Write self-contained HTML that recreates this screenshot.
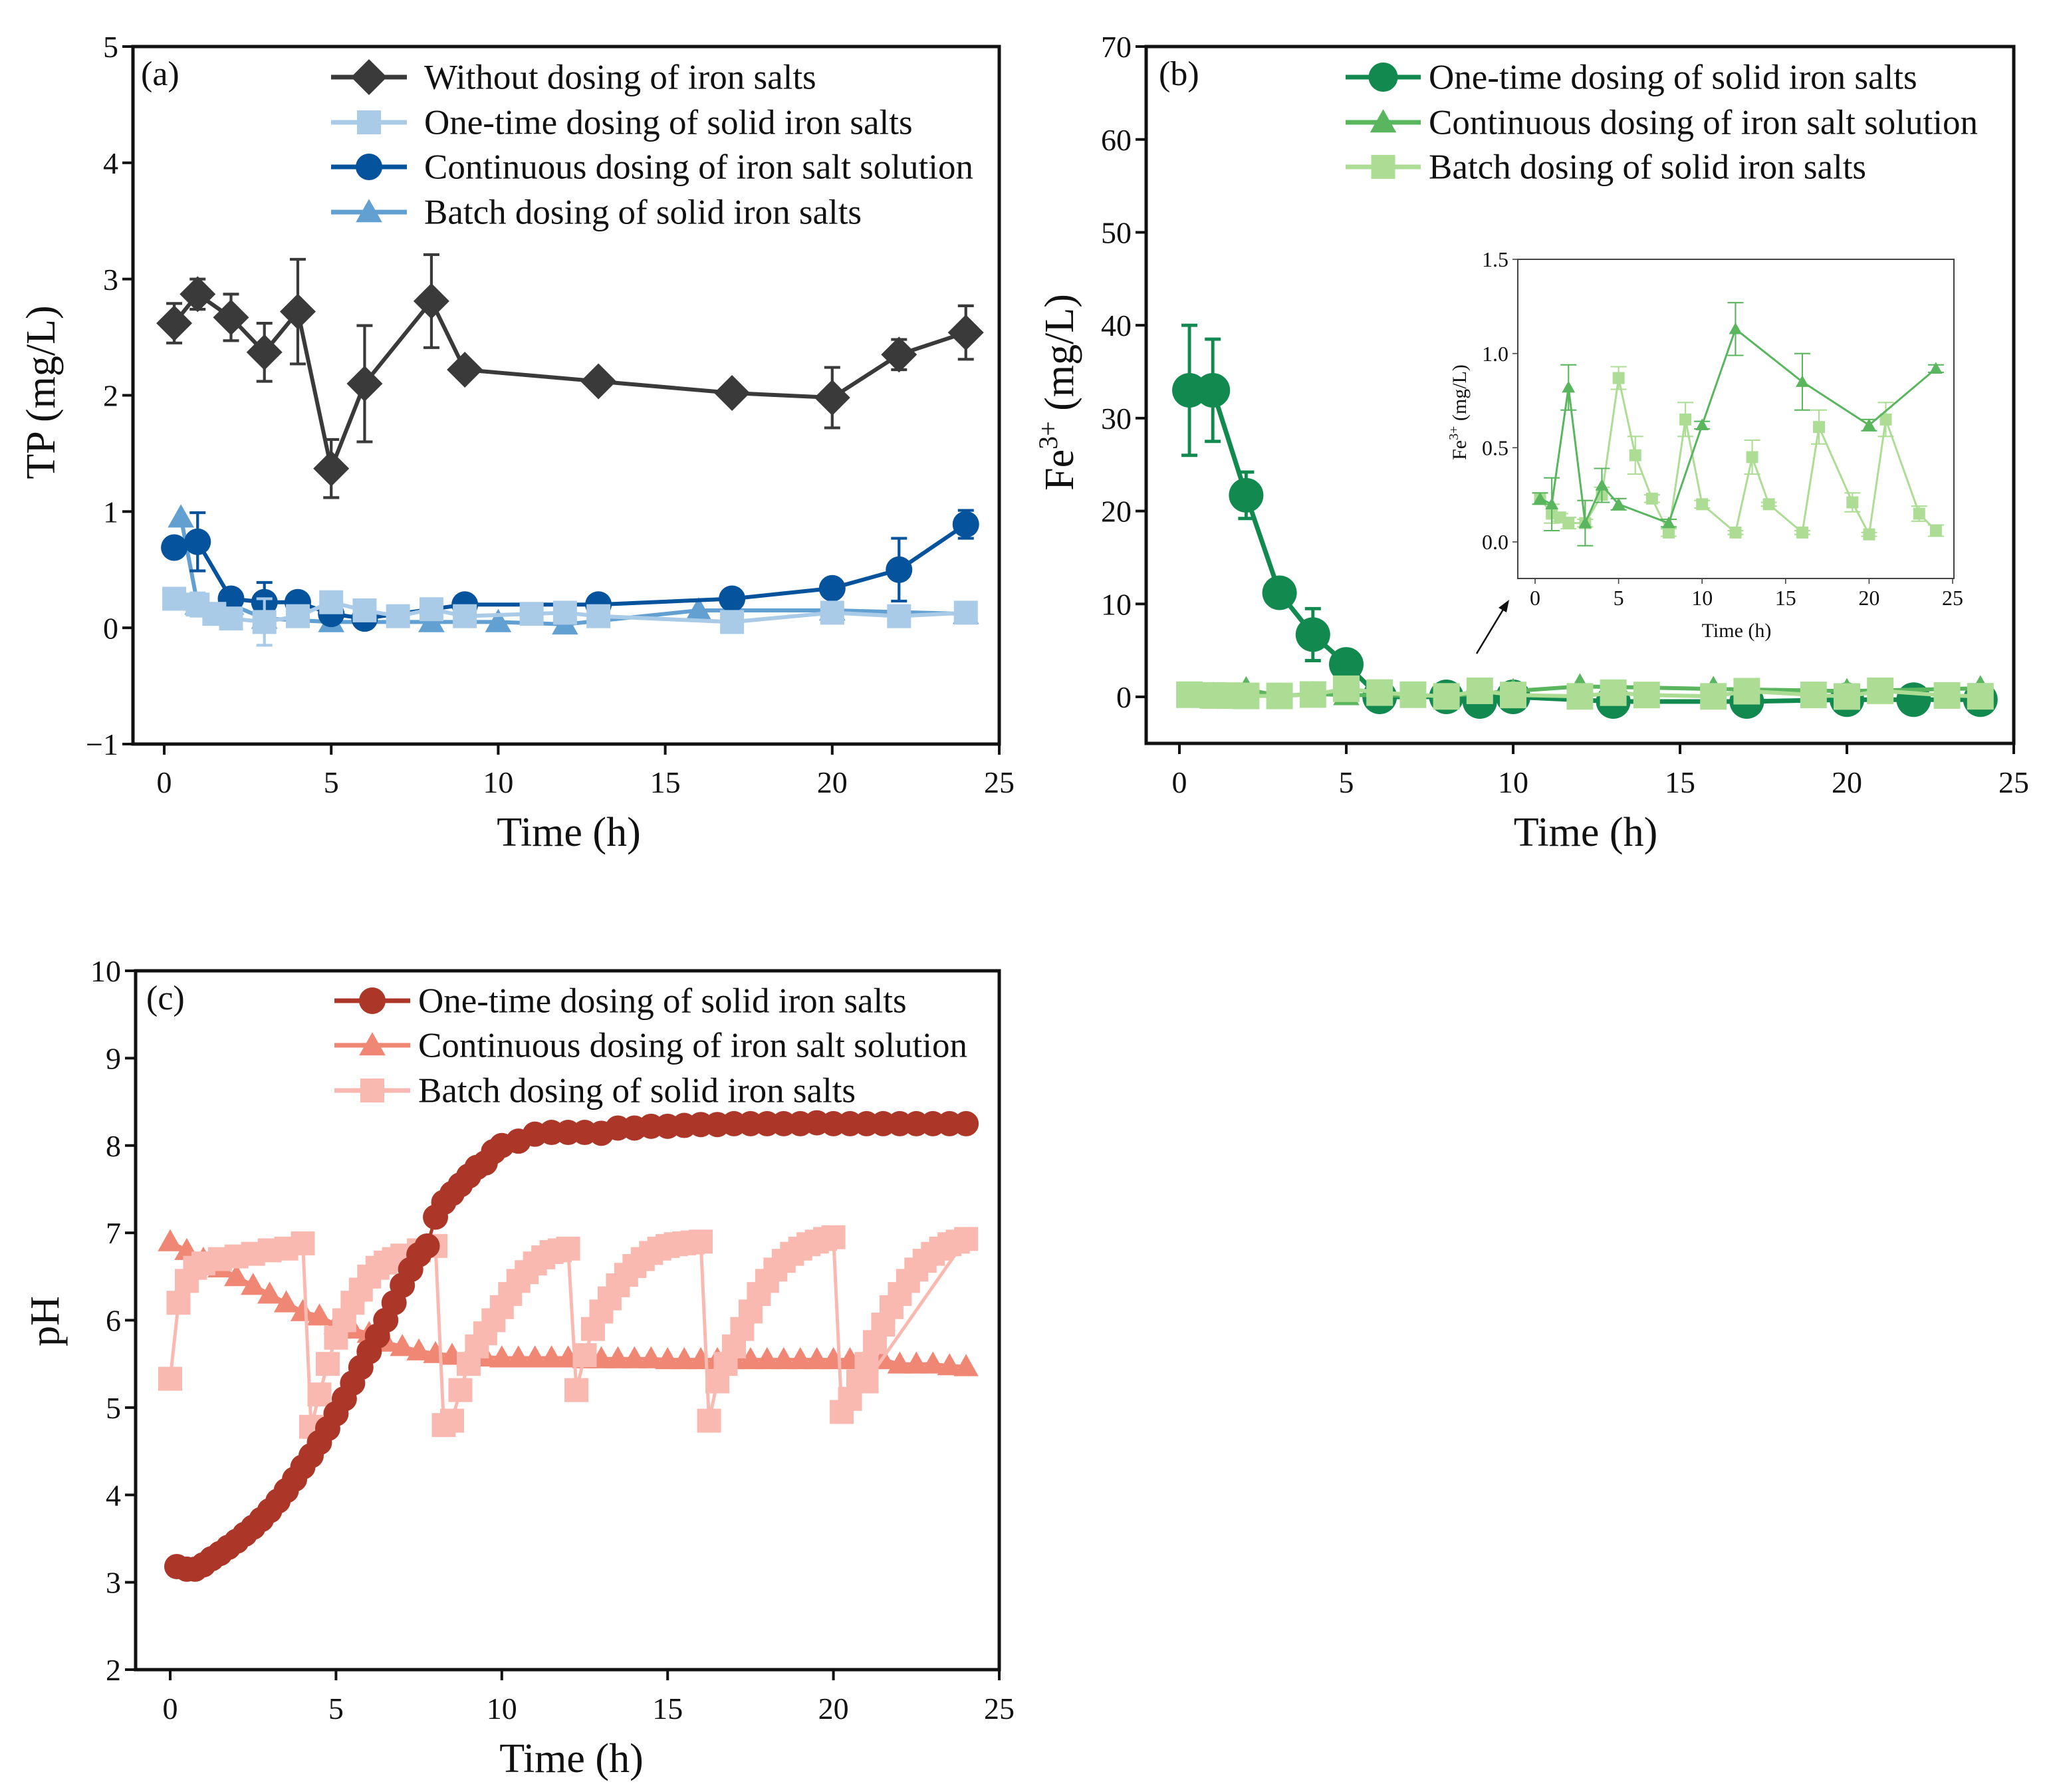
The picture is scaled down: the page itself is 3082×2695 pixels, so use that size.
<!DOCTYPE html>
<html><head><meta charset="utf-8"><style>
html,body{margin:0;padding:0;background:#fff}
svg{display:block}
text{font-family:"Liberation Serif",serif}
</style></head><body>
<svg id="fig" width="3082" height="2695" viewBox="0 0 3082 2695" xmlns="http://www.w3.org/2000/svg"></svg>
<script>
// ---- Panel (a) TP data ----
const aWithoutT=[0.3,1,2,3,4,5,6,8,9,13,17,20,22,24];
const aWithoutV=[2.62,2.87,2.67,2.37,2.72,1.37,2.1,2.81,2.22,2.12,2.02,1.98,2.35,2.54];
const aWithoutE=[0.17,0.13,0.2,0.25,0.45,0.25,0.5,0.4,0.05,0.05,0.05,0.26,0.13,0.23];
const aOneT=[0.3,1,1.5,2,3,4,5,6,7,8,9,11,12,13,17,20,22,24];
const aOneV=[0.25,0.2,0.12,0.08,0.05,0.1,0.22,0.15,0.1,0.16,0.1,0.12,0.13,0.1,0.05,0.13,0.1,0.13];
const aOneE=[0.05,0.1,0.03,0.03,0.2,0.05,0.05,0.05,0.05,0.05,0.05,0.03,0.03,0.03,0.03,0.05,0.03,0.05];
const aContT=[0.3,1,2,3,4,5,6,9,13,17,20,22,24];
const aContV=[0.69,0.74,0.25,0.22,0.22,0.12,0.08,0.2,0.2,0.25,0.34,0.5,0.89];
const aContE=[0.05,0.25,0.05,0.17,0.05,0.05,0.05,0.03,0.03,0.03,0.05,0.27,0.12];
const aBatchT=[0.5,1,2,3,5,8,10,12,16,20,24];
const aBatchV=[0.95,0.2,0.2,0.08,0.05,0.05,0.05,0.03,0.15,0.15,0.12];
const aYTicks=[-1,0,1,2,3,4,5];
const xTicks=[0,5,10,15,20,25];
// ---- Panel (b) Fe3+ data ----
const bOneT=[0.3,1,2,3,4,5,6,8,9,10,13,17,20,22,24];
const bOneV=[33,33,21.7,11.2,6.7,3.5,0,0,-0.5,0,-0.5,-0.5,-0.3,-0.3,-0.3];
const bOneE=[7,5.5,2.5,1.5,2.8,0.5,0.3,0.3,0.3,0.3,0.3,0.3,0.3,0.3,0.3];
const bContT=[0.3,1,2,3,4,5,8,10,12,16,20,24];
const bContV=[0.23,0.2,0.82,0.1,0.3,0.2,0.1,0.62,1.13,0.85,0.62,0.92];
const bContE=[0.03,0.14,0.12,0.12,0.09,0.03,0.02,0.02,0.14,0.15,0.03,0.02];
const bBatchT=[0.3,1,1.5,2,3,4,5,6,7,8,9,10,12,13,14,16,17,19,20,21,23,24];
const bBatchV=[0.23,0.15,0.13,0.1,0.1,0.25,0.87,0.46,0.23,0.05,0.65,0.2,0.05,0.45,0.2,0.05,0.61,0.21,0.04,0.65,0.15,0.06];
const bBatchE=[0.03,0.05,0.02,0.03,0.02,0.04,0.06,0.1,0.02,0.02,0.09,0.02,0.01,0.09,0.01,0.01,0.09,0.05,0.01,0.09,0.04,0.03];
const bYTicks=[0,10,20,30,40,50,60,70];
const insetYTicks=[0.0,0.5,1.0,1.5];
// ---- Panel (c) pH data ----
const cOneT=[0.2,0.5,0.75,1,1.25,1.5,1.75,2,2.25,2.5,2.75,3,3.25,3.5,3.75,4,4.25,4.5,4.75,5,5.25,5.5,5.75,6,6.25,6.5,6.75,7,7.25,7.5,7.75,8,8.25,8.5,8.75,9,9.25,9.5,9.75,10,10.5,11,11.5,12,12.5,13,13.5,14,14.5,15,15.5,16,16.5,17,17.5,18,18.5,19,19.5,20,20.5,21,21.5,22,22.5,23,23.5,24];
const cOneV=[3.18,3.15,3.15,3.2,3.27,3.33,3.4,3.47,3.55,3.63,3.72,3.82,3.93,4.05,4.18,4.32,4.45,4.6,4.76,4.93,5.1,5.28,5.46,5.64,5.82,6.0,6.2,6.4,6.58,6.75,6.85,7.18,7.35,7.45,7.55,7.65,7.75,7.8,7.93,8.0,8.05,8.13,8.15,8.15,8.15,8.14,8.2,8.2,8.22,8.22,8.23,8.24,8.24,8.25,8.25,8.25,8.25,8.25,8.26,8.25,8.25,8.25,8.25,8.25,8.25,8.25,8.25,8.25];
const cContT=[0,0.5,1,1.5,2,2.5,3,3.5,4,4.5,5,5.5,6,6.5,7,7.5,8,8.5,9,9.5,10,10.5,11,11.5,12,12.5,13,13.5,14,14.5,15,15.5,16,16.5,17,17.5,18,18.5,19,19.5,20,20.5,21,21.5,22,22.5,23,23.5,24];
const cContV=[6.9,6.8,6.7,6.6,6.5,6.4,6.3,6.2,6.1,6.05,5.95,5.9,5.85,5.75,5.7,5.65,5.62,5.6,5.58,5.58,5.57,5.57,5.57,5.57,5.57,5.56,5.56,5.56,5.56,5.56,5.55,5.55,5.55,5.55,5.55,5.55,5.55,5.55,5.55,5.55,5.55,5.55,5.55,5.55,5.5,5.5,5.5,5.48,5.47];
const cBatchT=[0,0.25,0.5,0.75,1,1.5,2,2.5,3,3.5,4,4.25,4.5,4.75,5,5.25,5.5,5.75,6,6.25,6.5,6.75,7,7.5,8,8.25,8.5,8.75,9,9.25,9.5,9.75,10,10.25,10.5,10.75,11,11.25,11.5,11.75,12,12.25,12.5,12.75,13,13.25,13.5,13.75,14,14.25,14.5,14.75,15,15.25,15.5,15.75,16,16.25,16.5,16.75,17,17.25,17.5,17.75,18,18.25,18.5,18.75,19,19.25,19.5,19.75,20,20.25,20.5,20.75,21,21.25,21.5,21.75,22,22.25,22.5,22.75,23,23.25,23.5,23.75,24,21];
const cBatchV=[5.33,6.2,6.45,6.6,6.65,6.7,6.73,6.76,6.8,6.82,6.88,4.78,5.15,5.5,5.8,6.0,6.2,6.35,6.5,6.6,6.66,6.7,6.74,6.8,6.85,4.8,4.85,5.2,5.5,5.7,5.85,6.0,6.15,6.3,6.45,6.55,6.65,6.72,6.78,6.8,6.82,5.2,5.6,5.9,6.1,6.25,6.4,6.52,6.62,6.7,6.77,6.82,6.85,6.87,6.88,6.89,6.9,4.85,5.3,5.5,5.7,5.9,6.1,6.3,6.45,6.58,6.68,6.76,6.82,6.87,6.9,6.93,6.95,4.95,5.1,5.3,5.5,5.75,5.95,6.15,6.3,6.45,6.58,6.68,6.76,6.82,6.87,6.9,6.93,5.3];
const cYTicks=[2,3,4,5,6,7,8,9,10];

const NS="http://www.w3.org/2000/svg";
const svg=document.getElementById('fig');
function el(tag,attrs,parent,txt){const e=document.createElementNS(NS,tag);for(const k in attrs)e.setAttribute(k,attrs[k]);if(txt!==undefined)e.textContent=txt;(parent||svg).appendChild(e);return e;}
function grp(name,parent){const g=el('g',{},parent);return g;}
function lin(d0,d1,r0,r1){return v=>r0+(v-d0)/(d1-d0)*(r1-r0);}
function marker(g,shape,x,y,s,color){
  let m;
  if(shape==='circle')m=el('circle',{cx:x,cy:y,r:s,fill:color},g);
  else if(shape==='square')m=el('rect',{x:x-s,y:y-s,width:2*s,height:2*s,fill:color},g);
  else if(shape==='diamond')m=el('polygon',{points:`${x},${y-s} ${x+s},${y} ${x},${y+s} ${x-s},${y}`,fill:color},g);
  else m=el('polygon',{points:`${x},${y-s*1.1} ${x+s*1.1},${y+s*0.85} ${x-s*1.1},${y+s*0.85}`,fill:color},g);
  return m;
}
function series(g,X,Y,T,V,E,shape,size,color,lw,name){
  const sg=grp(name,g);
  let pts=T.map((t,i)=>X(t)+','+Y(V[i])).join(' ');
  const pl=el('polyline',{points:pts,fill:'none',stroke:color,'stroke-width':lw,'stroke-linejoin':'round'},sg);
  
  
  if(E){T.forEach((t,i)=>{const x=X(t),y1=Y(V[i]+E[i]),y2=Y(V[i]-E[i]);
    el('path',{d:`M${x},${y1}V${y2}M${x-12},${y1}H${x+12}M${x-12},${y2}H${x+12}`,stroke:color,'stroke-width':lw*0.7,fill:'none'},sg);});}
  T.forEach((t,i)=>{const m=marker(sg,shape,X(t),Y(V[i]),size,color);
    
    });
}
function axes(g,L,R,T,B,X,Y,yt,xt,fs,tick,lw,yfmt,xly,col){
  col=col||'#111';
  el('rect',{x:L,y:T,width:R-L,height:B-T,fill:'none',stroke:col,'stroke-width':lw},g);
  const yg=grp('y-axis-ticks',g);
  yt.forEach(v=>{const y=Y(v);el('line',{x1:L-tick,x2:L,y1:y,y2:y,stroke:col,'stroke-width':lw*0.8},yg);
    const t=el('text',{x:L-tick-6,y:y+fs*0.35,'font-size':fs,'text-anchor':'end',fill:'#111'},yg,yfmt?yfmt(v):(v<0?'\u2212'+(-v):String(v)));
    });
  const xg=grp('x-axis-ticks',g);
  xt.forEach(v=>{const x=X(v);el('line',{x1:x,x2:x,y1:B,y2:B+tick,stroke:col,'stroke-width':lw*0.8},xg);
    const t=el('text',{x:x,y:xly,'font-size':fs,'text-anchor':'middle',fill:'#111'},xg,String(v));
    });
}
function legend(g,x0,x1,tx,rows,fs){
  rows.forEach(r=>{const lg=grp('legend-entry',g);
    el('line',{x1:x0,x2:x1,y1:r.y,y2:r.y,stroke:r.c,'stroke-width':7},lg);
    marker(lg,r.s,(x0+x1)/2,r.y,r.sz,r.c);
    el('text',{x:tx,y:r.y+fs*0.33,'font-size':fs,fill:'#111'},lg,r.t);});
}
const FS=46, TF=62, LF=53;
// ===== Panel A =====
(function(){
  const g=grp('panel-a-tp');
  const L=200,R=1503,T=70,B=1119;
  const X=lin(0,25,247,1503), Y=lin(-1,5,1119,70);
  axes(g,L,R,T,B,X,Y,aYTicks,xTicks,FS,16,5,null,1192);
  series(g,X,Y,aBatchT,aBatchV,null,'triangle',18,'#62a0d2',6,'batch-dosing-series');
  series(g,X,Y,aContT,aContV,aContE,'circle',20,'#05539c',6,'continuous-dosing-series');
  series(g,X,Y,aOneT,aOneV,aOneE,'square',18,'#a9cbe7',6,'one-time-dosing-series');
  series(g,X,Y,aWithoutT,aWithoutV,aWithoutE,'diamond',27,'#3a3a3a',6,'without-dosing-series');
  el('text',{x:212,y:128,'font-size':52,fill:'#111'},g,'(a)');
  legend(g,498,612,638,[
    {y:116,c:'#3a3a3a',s:'diamond',sz:27,t:'Without dosing of iron salts'},
    {y:184,c:'#a9cbe7',s:'square',sz:18,t:'One-time dosing of solid iron salts'},
    {y:251,c:'#05539c',s:'circle',sz:20,t:'Continuous dosing of iron salt solution'},
    {y:319,c:'#62a0d2',s:'triangle',sz:18,t:'Batch dosing of solid iron salts'}],LF);
  el('text',{x:(L+R)/2+4,y:1272,'font-size':TF,'text-anchor':'middle',fill:'#111'},g,'Time (h)');
  el('text',{transform:'translate(82,590) rotate(-90)','font-size':TF,'text-anchor':'middle',fill:'#111'},g,'TP (mg/L)');
})();
// ===== Panel B =====
(function(){
  const g=grp('panel-b-fe');
  const L=1724,R=3029,T=70,B=1118;
  const X=lin(0,25,1774,3029), Y=lin(0,70,1048,70);
  axes(g,L,R,T,B,X,Y,bYTicks,xTicks,FS,16,5,null,1192);
  series(g,X,Y,bOneT,bOneV,bOneE,'circle',26,'#12894e',7,'one-time-dosing-series');
  series(g,X,Y,bContT,bContV,null,'triangle',18,'#5ab55f',6,'continuous-dosing-series');
  series(g,X,Y,bBatchT,bBatchV,null,'square',20,'#addd95',6,'batch-dosing-series');
  el('text',{x:1743,y:128,'font-size':52,fill:'#111'},g,'(b)');
  legend(g,2024,2137,2149,[
    {y:116,c:'#12894e',s:'circle',sz:22,t:'One-time dosing of solid iron salts'},
    {y:184,c:'#5ab55f',s:'triangle',sz:18,t:'Continuous dosing of iron salt solution'},
    {y:251,c:'#addd95',s:'square',sz:18,t:'Batch dosing of solid iron salts'}],LF);
  el('text',{x:2385,y:1272,'font-size':TF,'text-anchor':'middle',fill:'#111'},g,'Time (h)');
  const yt=el('text',{transform:'translate(1614,590) rotate(-90)','font-size':TF,'text-anchor':'middle',fill:'#111'},g);
  el('tspan',{},yt,'Fe');el('tspan',{dy:-24,'font-size':40},yt,'3+');el('tspan',{dy:24},yt,' (mg/L)');
  // inset
  const ig=grp('inset-chart',g);
  const iL=2283,iR=2939,iT=390,iB=870;
  const IX=lin(0,25,2309,2937), IY=lin(0,1.5,815,390);
  axes(ig,iL,iR,iT,iB,IX,IY,insetYTicks,xTicks,32,8,2,v=>v.toFixed(1),910,'#444');
  series(ig,IX,IY,bBatchT,bBatchV,bBatchE,'square',9,'#addd95',3,'inset-batch-series');
  series(ig,IX,IY,bContT,bContV,bContE,'triangle',9,'#5ab55f',3,'inset-continuous-series');
  el('text',{x:2612,y:958,'font-size':30,'text-anchor':'middle',fill:'#111'},ig,'Time (h)');
  const it=el('text',{transform:'translate(2205,620) rotate(-90)','font-size':30,'text-anchor':'middle',fill:'#111'},ig);
  el('tspan',{},it,'Fe');el('tspan',{dy:-12,'font-size':20},it,'3+');el('tspan',{dy:12},it,' (mg/L)');
  el('line',{x1:2221,y1:983,x2:2262,y2:915,stroke:'#111','stroke-width':2.5},g);
  el('polygon',{points:'2270,902 2254,914 2266,921',fill:'#111'},g);
})();
// ===== Panel C =====
(function(){
  const g=grp('panel-c-ph');
  const L=204,R=1503,T=1460,B=2511;
  const X=lin(0,25,256,1503), Y=lin(2,10,2511,1460);
  axes(g,L,R,T,B,X,Y,cYTicks,xTicks,FS,16,5,null,2585);
  series(g,X,Y,cContT,cContV,null,'triangle',17,'#f08674',5,'continuous-dosing-series');
  series(g,X,Y,cBatchT,cBatchV,null,'square',18,'#f9b9b0',5,'batch-dosing-series');
  series(g,X,Y,cOneT,cOneV,null,'circle',19,'#ac3728',5,'one-time-dosing-series');
  el('text',{x:220,y:1518,'font-size':52,fill:'#111'},g,'(c)');
  legend(g,503,617,629,[
    {y:1505,c:'#ac3728',s:'circle',sz:20,t:'One-time dosing of solid iron salts'},
    {y:1572,c:'#f08674',s:'triangle',sz:18,t:'Continuous dosing of iron salt solution'},
    {y:1640,c:'#f9b9b0',s:'square',sz:18,t:'Batch dosing of solid iron salts'}],LF);
  el('text',{x:(L+R)/2+6,y:2665,'font-size':TF,'text-anchor':'middle',fill:'#111'},g,'Time (h)');
  el('text',{transform:'translate(88,1987) rotate(-90)','font-size':TF,'text-anchor':'middle',fill:'#111'},g,'pH');
})();
</script>
</body></html>
